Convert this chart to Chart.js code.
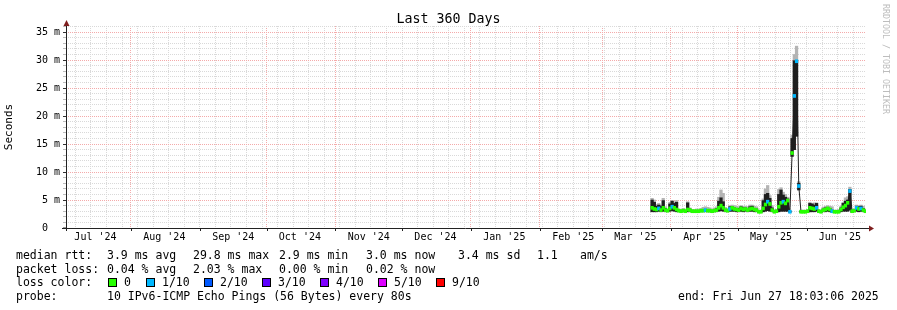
<!DOCTYPE html>
<html>
<head>
<meta charset="utf-8">
<script src="https://cdn.jsdelivr.net/npm/chart.js@4/dist/chart.umd.min.js"></script>
<style>
html,body{margin:0;padding:0;background:#fff;}
#wrap{position:relative;width:897px;height:310px;overflow:hidden;font-family:"DejaVu Sans Mono",monospace;color:#000;background:#fff;}
#c{position:absolute;left:0;top:0;}
.t{position:absolute;white-space:pre;font-size:11.5px;line-height:14px;}
.box{position:absolute;width:9px;height:9px;box-sizing:border-box;border:1px solid #000;}
#title{position:absolute;left:0;top:11px;width:897px;text-align:center;font-size:13.3px;line-height:16px;white-space:pre;}
#wm{position:absolute;left:881px;top:4px;writing-mode:vertical-rl;font-size:8.3px;line-height:10px;color:#bdbdbd;white-space:pre;}
</style>
</head>
<body>
<div id="wrap">
<canvas id="c" width="897" height="310"></canvas>
<div id="title">Last 360 Days</div>
<div id="wm">RRDTOOL / TOBI OETIKER</div>
</div>
<script>
// ---------------- data ----------------
const dates = [
 '2025-03-23','2025-03-24','2025-03-25','2025-03-26','2025-03-27','2025-03-28','2025-03-29','2025-03-30','2025-03-31',
 '2025-04-01','2025-04-02','2025-04-03','2025-04-04','2025-04-05','2025-04-06','2025-04-07','2025-04-08','2025-04-09','2025-04-10',
 '2025-04-11','2025-04-12','2025-04-13','2025-04-14','2025-04-15','2025-04-16','2025-04-17','2025-04-18','2025-04-19','2025-04-20',
 '2025-04-21','2025-04-22','2025-04-23','2025-04-24','2025-04-25','2025-04-26','2025-04-27','2025-04-28','2025-04-29','2025-04-30',
 '2025-05-01','2025-05-02','2025-05-03','2025-05-04','2025-05-05','2025-05-06','2025-05-07','2025-05-08','2025-05-09','2025-05-10',
 '2025-05-11','2025-05-12','2025-05-13','2025-05-14','2025-05-15','2025-05-16','2025-05-17','2025-05-18','2025-05-19','2025-05-20',
 '2025-05-21','2025-05-22','2025-05-23','2025-05-24','2025-05-25','2025-05-26','2025-05-27','2025-05-28','2025-05-29','2025-05-30','2025-05-31',
 '2025-06-01','2025-06-02','2025-06-03','2025-06-04','2025-06-05','2025-06-06','2025-06-07','2025-06-08','2025-06-09','2025-06-10',
 '2025-06-11','2025-06-12','2025-06-13','2025-06-14','2025-06-15','2025-06-16','2025-06-17','2025-06-18','2025-06-19','2025-06-20',
 '2025-06-21','2025-06-22','2025-06-23','2025-06-24','2025-06-25','2025-06-26','2025-06-27'
];
// median RTT (ms)
const rttMedian = [
 3.6,3.4,3.3,3.5,3.2,3.6,3.2,3.1,3.5,3.8,
 3.6,3.3,3.1,3.0,3.1,3.0,3.3,3.2,3.0,3.0,
 3.0,3.0,3.1,3.1,3.2,3.1,3.1,3.0,3.1,3.2,
 3.6,4.0,3.6,3.2,3.1,3.4,3.6,3.4,3.3,3.2,
 3.5,3.3,3.4,3.2,3.4,3.5,3.3,3.2,2.9,2.9,
 3.5,4.2,4.7,4.3,3.2,2.9,3.0,3.8,4.5,4.7,
 4.4,4.9,2.9,13.4,23.6,29.8,7.5,2.9,2.9,2.9,
 3.0,3.6,3.5,3.4,3.6,3.0,2.9,3.2,3.3,3.5,
 3.3,3.0,2.9,2.9,2.9,3.3,3.7,4.0,4.5,6.6,
 3.0,3.1,3.6,3.4,3.5,3.2,3.0
];
// lowest ping (bottom of smoke, ms)
const rttMin = [
 2.9,2.9,2.9,3.0,2.9,3.0,2.9,2.9,3.0,3.1,
 3.0,2.9,2.9,2.9,2.9,2.9,2.9,2.9,2.9,2.9,
 2.9,2.9,2.9,2.9,2.9,2.9,2.9,2.8,2.9,2.9,
 3.0,3.1,3.0,2.9,2.9,3.0,3.0,3.0,2.9,2.9,
 3.0,2.9,3.0,2.9,3.0,3.0,2.9,2.9,2.8,2.8,
 2.9,3.0,3.1,3.0,2.9,2.8,2.8,2.9,3.0,3.0,
 3.0,3.0,2.8,12.8,14.0,16.4,6.8,2.8,2.8,2.8,
 2.8,2.9,2.9,2.9,3.0,2.8,2.8,2.9,2.9,3.0,
 2.9,2.8,2.8,2.8,2.8,2.9,3.0,3.0,3.0,3.2,
 2.8,2.9,3.0,2.9,3.0,2.9,2.8
];
// top of dense (dark) smoke, ms
const rttHigh = [
 5.0,4.6,3.9,4.1,3.9,4.9,3.5,3.2,4.3,4.8,
 4.4,4.6,3.2,3.1,3.2,3.1,4.5,3.4,3.1,3.1,
 3.1,3.1,3.2,3.2,3.3,3.2,3.2,3.1,3.2,3.5,
 4.8,5.4,4.7,3.3,3.2,3.8,3.8,3.6,3.5,3.5,
 3.8,3.6,3.6,3.3,3.8,3.9,3.5,3.4,3.0,3.0,
 4.9,6.0,6.2,5.3,3.6,3.0,3.1,6.0,6.8,5.9,
 5.5,5.2,3.0,16.0,29.9,29.9,8.0,3.0,3.0,3.0,
 3.1,4.4,4.3,4.1,4.4,3.1,3.0,3.4,3.6,3.7,
 3.5,3.2,3.0,3.0,3.0,3.6,4.4,4.8,5.0,6.9,
 3.1,3.2,3.9,3.8,3.9,3.5,3.1
];
// highest ping (top of smoke, ms)
const rttMax = [
 5.3,5.0,4.2,4.4,4.1,5.3,3.8,3.4,4.6,4.9,
 4.7,4.9,3.4,3.3,3.5,3.4,4.7,3.6,3.3,3.3,
 3.4,3.4,3.5,3.7,3.8,3.7,3.6,3.4,3.6,3.8,
 5.5,6.8,6.2,3.7,3.5,4.0,4.1,4.0,3.9,3.8,
 4.0,3.9,3.9,3.8,4.1,4.1,3.9,3.8,3.2,3.2,
 5.2,7.0,7.6,5.8,4.0,3.3,3.3,6.9,7.2,6.4,
 6.0,5.5,3.2,16.6,31.0,32.5,8.3,3.2,3.2,3.2,
 3.3,4.6,4.4,4.5,4.5,3.3,3.2,3.7,3.9,4.0,
 3.9,3.8,3.2,3.2,3.3,3.9,4.6,5.4,5.6,7.3,
 3.3,3.4,4.1,4.0,4.1,3.9,3.4
];
// packet loss in tenths (pings lost of 10)
const lossTenths = [
 0,0,0,1,0,0,0,0,0,1,
 0,0,0,0,0,0,0,0,0,0,
 0,0,0,0,1,0,0,0,0,0,
 0,0,0,0,0,1,0,0,0,0,
 0,0,0,0,0,0,0,0,0,0,
 0,0,1,0,0,0,0,0,0,1,
 0,0,1,0,1,1,1,0,0,0,
 0,0,0,0,1,0,0,0,0,0,
 0,1,0,0,0,0,0,0,0,1,
 0,0,1,0,1,0,0
];
const lossLevels = [0, 1, 2, 3, 4, 5, 9];
const lossLabels = ['0', '1/10', '2/10', '3/10', '4/10', '5/10', '9/10'];
const lossColors = ['#26ff00', '#00b8ff', '#0059ff', '#5e00ff', '#7e00ff', '#dd00ff', '#ff0000'];
const monthLabels = ["Jul '24","Aug '24","Sep '24","Oct '24","Nov '24","Dec '24","Jan '25","Feb '25","Mar '25","Apr '25","May '25","Jun '25"];
const medianRttStats = ['3.9 ms avg', '29.8 ms max', '2.9 ms min', '3.0 ms now', '3.4 ms sd', '1.1', 'am/s'];
const packetLossStats = ['0.04 % avg', '2.03 % max', '0.00 % min', '0.02 % now'];
const probeText = '10 IPv6-ICMP Echo Pings (56 Bytes) every 80s';
const endText = 'end: Fri Jun 27 18:03:06 2025';

// ---------------- time axis ----------------
const DAY = 86400000;
const endTime = Date.UTC(2025, 5, 27, 18, 3, 6);
const startTime = endTime - 360 * DAY;
const toX = s => Date.parse(s + 'T12:00:00Z');

const xTicks = [];
for (let m = 0; m < 12; m++) {
  const y = 2024 + Math.floor((6 + m) / 12), mo = (6 + m) % 12;
  const first = Date.UTC(y, mo, 1);
  if (first > startTime) xTicks.push({value: first, kind: 'major', text: ''});
  xTicks.push({value: Date.UTC(y, mo, 16), kind: 'label', text: monthLabels[m]});
}
for (let t = Date.UTC(2024, 6, 7); t < endTime; t += 7 * DAY) xTicks.push({value: t, kind: 'minor', text: ''});
xTicks.sort((a, b) => a.value - b.value);

function lossColor(v) {
  let c = lossColors[0];
  for (let i = 0; i < lossLevels.length; i++) if (v >= lossLevels[i]) c = lossColors[i];
  return c;
}

const MAJ = '#f4aaaa';
const MIN = '#d9d9d9';
const AXIS = '#222222';
const ARROW = '#7f1f1f';
const FONT = 'DejaVu Sans Mono';
const BAND = 0.27;
const BAR_W = 2.6;

const axesPlugin = {
  id: 'axesPlugin',
  afterDraw(chart) {
    const {ctx, chartArea: a} = chart;
    const xs = chart.scales.x;
    ctx.save();
    ctx.strokeStyle = AXIS;
    ctx.lineWidth = 1;
    ctx.beginPath();
    ctx.moveTo(a.left - 4, a.bottom + 0.5); ctx.lineTo(a.right + 3, a.bottom + 0.5);
    ctx.moveTo(a.left + 0.5, a.bottom + 3); ctx.lineTo(a.left + 0.5, a.top - 3);
    ctx.stroke();
    // month tick marks below axis
    ctx.beginPath();
    xTicks.filter(t => t.kind === 'major').forEach(t => {
      const px = Math.round(xs.getPixelForValue(t.value)) + 0.5;
      ctx.moveTo(px, a.bottom + 1); ctx.lineTo(px, a.bottom + 3);
    });
    ctx.stroke();
    ctx.fillStyle = ARROW;
    ctx.beginPath();
    ctx.moveTo(a.left + 0.5, a.top - 6); ctx.lineTo(a.left - 2.5, a.top); ctx.lineTo(a.left + 3.5, a.top); ctx.closePath();
    ctx.fill();
    ctx.beginPath();
    ctx.moveTo(a.right + 8, a.bottom + 0.5); ctx.lineTo(a.right + 3, a.bottom - 2.5); ctx.lineTo(a.right + 3, a.bottom + 3.5); ctx.closePath();
    ctx.fill();
    ctx.restore();
  }
};

const pts = (fn) => dates.map((d, i) => ({x: toX(d), y: fn(i)}));

new Chart(document.getElementById('c'), {
  type: 'bar',
  data: {
    datasets: [
      {type: 'bar', label: 'smoke', data: pts(i => [rttMin[i], rttMax[i]]), backgroundColor: '#b4b4b4',
       barThickness: BAR_W, grouped: false, order: 4, borderWidth: 0},
      {type: 'bar', label: 'dense smoke', data: pts(i => [rttMin[i], rttHigh[i]]), backgroundColor: '#1e1e1e',
       barThickness: BAR_W, grouped: false, order: 3, borderWidth: 0},
      {type: 'line', label: 'median', data: pts(i => rttMedian[i]), borderColor: '#1e1e1e', borderWidth: 1,
       pointRadius: 0, tension: 0, fill: false, order: 2},
      {type: 'bar', label: 'median loss', data: pts(i => [rttMedian[i] - BAND, rttMedian[i] + BAND]),
       backgroundColor: lossTenths.map(lossColor), barThickness: BAR_W, grouped: false, order: 1, borderWidth: 0}
    ]
  },
  options: {
    responsive: false,
    devicePixelRatio: 1,
    animation: false,
    events: [],
    layout: {padding: {top: 26, right: 31, left: 0, bottom: 0}},
    plugins: {legend: {display: false}, tooltip: {enabled: false}, title: {display: false}},
    scales: {
      x: {
        type: 'linear', min: startTime, max: endTime, offset: false,
        afterBuildTicks: s => { s.ticks = xTicks.map(t => ({value: t.value, kind: t.kind, text: t.text})); },
        afterFit: s => { s.height = 82; },
        ticks: {autoSkip: false, maxRotation: 0, minRotation: 0, padding: 3, color: '#000',
          font: {family: FONT, size: 10},
          callback: (v, i, ticks) => (ticks[i] && ticks[i].kind === 'label') ? ticks[i].text : ''},
        grid: {drawTicks: false, offset: false,
          color: c => (c.tick && c.tick.kind === 'major') ? MAJ : MIN,
          lineWidth: c => (c.tick && c.tick.kind === 'label') ? 0 : 1},
        border: {display: false, dash: [1, 1]}
      },
      y: {
        type: 'linear', min: 0, max: 36.1, position: 'left',
        afterFit: s => { s.width = 66; },
        ticks: {stepSize: 1, autoSkip: false, includeBounds: false, padding: 3, color: '#000',
          font: {family: FONT, size: 10},
          callback: v => (v % 5 === 0) ? (v === 0 ? '0  ' : v + ' m') : ''},
        grid: {tickLength: 3,
          color: c => (c.tick && c.tick.value % 5 === 0) ? MAJ : MIN,
          lineWidth: c => (c.tick && c.tick.value === 0) ? 0 : 1,
          tickColor: c => (c.tick && c.tick.value % 5 === 0) ? '#333' : '#bbb',
          tickWidth: 1},
        border: {display: false, dash: [1, 1]},
        title: {display: true, text: 'Seconds', color: '#000', font: {family: FONT, size: 11}, padding: {top: 3, bottom: 0}}
      }
    }
  },
  plugins: [axesPlugin]
});

// ---------------- legend text (HTML) ----------------
const wrap = document.getElementById('wrap');
function txt(x, yc, s) {
  const d = document.createElement('div');
  d.className = 't'; d.textContent = s;
  d.style.left = x + 'px'; d.style.top = (yc - 7) + 'px';
  wrap.appendChild(d);
}
function box(x, yc, color) {
  const d = document.createElement('div');
  d.className = 'box'; d.style.background = color;
  d.style.left = x + 'px'; d.style.top = (yc - 4) + 'px';
  wrap.appendChild(d);
}
const rows = [255, 268.5, 282, 296];
txt(16, rows[0], 'median rtt:');
[107, 193, 279, 366, 458, 537, 580].forEach((x, i) => txt(x, rows[0], medianRttStats[i]));
txt(16, rows[1], 'packet loss:');
[107, 193, 279, 366].forEach((x, i) => txt(x, rows[1], packetLossStats[i]));
txt(16, rows[2], 'loss color:');
[108, 146, 204, 262, 320, 378, 436].forEach((x, i) => { box(x, rows[2], lossColors[i]); txt(x + 16, rows[2], lossLabels[i]); });
txt(16, rows[3], 'probe:');
txt(107, rows[3], probeText);
txt(678, rows[3], endText);
</script>
</body>
</html>
